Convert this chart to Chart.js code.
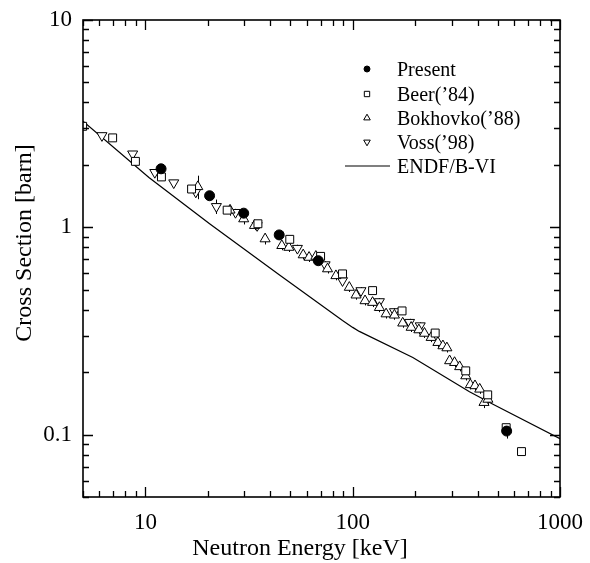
<!DOCTYPE html>
<html>
<head>
<meta charset="utf-8">
<script src="https://cdn.jsdelivr.net/npm/chart.js@4/dist/chart.umd.min.js"></script>
<style>
  html, body { margin: 0; padding: 0; background: #fff; }
  #wrap { width: 590px; height: 563px; }
</style>
</head>
<body>
<div id="wrap"><canvas id="xsChart" width="590" height="563"></canvas></div>
<script>
/* ===============================
   Capture cross section vs neutron energy
   log-log, data
================================ */

// Present (filled circles)
const presentE = [11.9, 20.4, 29.8, 44.2, 68.2, 553];
const presentS = [1.915, 1.42, 1.17, 0.919, 0.69, 0.104];
const presentErr = [0.03, 0.03, 0.04, 0.03, 0.03, 0.08];

// Beer('84) (open squares)
const beerE = [4.98, 6.95, 8.95, 11.95, 16.7, 24.8, 34.9, 49.7, 70, 89.3, 124.7, 173, 250, 351, 448, 550, 652];
const beerS = [3.07, 2.70, 2.08, 1.75, 1.53, 1.21, 1.04, 0.875, 0.724, 0.596, 0.495, 0.395, 0.309, 0.203, 0.1555, 0.108, 0.0828];

// Bokhovko('88) (open up-triangles)
const bokE = [17.9, 25.6, 29.8, 33.6, 37.8, 45.5, 49.2, 57.7, 61.6, 66.4, 75.6, 83, 96.3, 103.8, 114.7, 124.7,
    134.5, 144.9, 159, 174.3, 191.4, 208.5, 222, 239, 257.6, 272.4, 284.7, 293.4, 310, 328, 351, 369.4, 389, 410, 430, 449];
const bokS = [1.57, 1.21, 1.098, 1.02, 0.879, 0.816, 0.80, 0.736, 0.716, 0.724, 0.63, 0.584, 0.513, 0.471, 0.442, 0.434,
    0.41, 0.382, 0.377, 0.345, 0.329, 0.32, 0.308, 0.294, 0.278, 0.268, 0.262, 0.227, 0.2226, 0.2125, 0.192, 0.174, 0.172, 0.1656, 0.1428, 0.148];
const bokErr = [0.13, 0.06, 0.06, 0.05, 0.06, 0.05, 0.05, 0.05, 0.05, 0.05, 0.05, 0.05, 0.05, 0.05, 0.05, 0.05,
    0.05, 0.05, 0.05, 0.05, 0.05, 0.05, 0.05, 0.05, 0.05, 0.05, 0.05, 0.05, 0.05, 0.05, 0.05, 0.05, 0.05, 0.05, 0.06, 0.05];

// Voss('98) (open down-triangles)
const vossE = [6.17, 8.68, 11.1, 13.7, 17.5, 22.0, 27.2, 34.6, 54.1, 73.6, 89.3, 109.6, 134.5, 159, 188, 211.7];
const vossS = [2.77, 2.26, 1.84, 1.64, 1.48, 1.26, 1.18, 1.02, 0.792, 0.66, 0.553, 0.495, 0.438, 0.392, 0.348, 0.335];
const vossErr = [0.03, 0.03, 0.03, 0.03, 0.05, 0.08, 0.04, 0.04, 0.04, 0.04, 0.04, 0.04, 0.04, 0.04, 0.04, 0.04];

// ENDF/B-VI evaluation (solid line)
const endfE = [5, 10.4, 20.4, 44.2, 89.3, 100, 107.6, 195, 366, 475, 1000];
const endfS = [3.25, 1.74, 1.04, 0.59, 0.355, 0.329, 0.3146, 0.2356, 0.161, 0.14, 0.0955];

// Axis ranges, labelled decades and frame tick values
const xRange = [5, 1000];
const yRange = [0.05, 10];
const xTickLabels = [10, 100, 1000];
const yTickLabels = [0.1, 1, 10];
const xFrameTicks = [5, 6, 7, 8, 9, 10, 20, 30, 40, 50, 60, 70, 80, 90, 100, 200, 300, 400, 500, 600, 700, 800, 900, 1000];
const yFrameTicks = [0.05, 0.06, 0.07, 0.08, 0.09, 0.1, 0.2, 0.3, 0.4, 0.5, 0.6, 0.7, 0.8, 0.9, 1, 2, 3, 4, 5, 6, 7, 8, 9, 10];

const SERIF = '"Liberation Serif", "Times New Roman", serif';

const toXY = (xs, ys) => xs.map((x, i) => ({ x, y: ys[i] }));
const findLabel = (v, list) => list.find(t => Math.abs(Math.log10(v) - Math.log10(t)) < 1e-6);
const isDecade = v => Math.abs(Math.log10(v) - Math.round(Math.log10(v))) < 1e-6;

/**
 * Error bars, drawn under the markers
 */
const errorBarPlugin = {
    id: 'errorBars',
    beforeDatasetsDraw(chart) {
        const c = chart.ctx;
        const xs = chart.scales.x, ys = chart.scales.y;
        c.save();
        c.strokeStyle = '#000';
        c.lineWidth = 1;
        chart.data.datasets.forEach(ds => {
            if (!ds.errors) return;
            ds.data.forEach((p, i) => {
                const err = ds.errors[i];
                if (!err) return;
                const px = Math.round(xs.getPixelForValue(p.x)) + 0.5;
                c.beginPath();
                c.moveTo(px, ys.getPixelForValue(p.y * (1 + err)));
                c.lineTo(px, ys.getPixelForValue(p.y * (1 - err)));
                c.stroke();
            });
        });
        c.restore();
    }
};

/**
 * Frame with inward ticks on all four sides, axis titles and legend
 */
const frameLegendPlugin = {
    id: 'frameLegend',
    afterDraw(chart) {
        const c = chart.ctx;
        const a = chart.chartArea;
        const xs = chart.scales.x, ys = chart.scales.y;
        c.save();
        c.strokeStyle = '#000';

        // inward ticks
        c.lineWidth = 1.3;
        c.beginPath();
        for (const v of xFrameTicks) {
            const px = Math.round(xs.getPixelForValue(v)) + 0.5;
            const len = isDecade(v) ? 10 : 6;
            c.moveTo(px, a.bottom);
            c.lineTo(px, a.bottom - len);
            c.moveTo(px, a.top);
            c.lineTo(px, a.top + len);
        }
        for (const v of yFrameTicks) {
            const py = Math.round(ys.getPixelForValue(v)) + 0.5;
            const len = isDecade(v) ? 10 : 6;
            c.moveTo(a.left, py);
            c.lineTo(a.left + len, py);
            c.moveTo(a.right, py);
            c.lineTo(a.right - len, py);
        }
        c.stroke();

        // box
        c.lineWidth = 1.6;
        c.strokeRect(a.left, a.top, a.right - a.left, a.bottom - a.top);

        // axis titles
        c.fillStyle = '#000';
        c.font = '24px ' + SERIF;
        c.textAlign = 'center';
        c.textBaseline = 'alphabetic';
        c.fillText('Neutron Energy [keV]', 300, 555);
        c.save();
        c.translate(31, 243);
        c.rotate(-Math.PI / 2);
        c.fillText('Cross Section [barn]', 0, 0);
        c.restore();

        // legend
        const symX = 367, txtX = 397, rowY = [69, 94, 118, 142, 166];
        c.font = '20px ' + SERIF;
        c.textAlign = 'left';
        c.textBaseline = 'middle';
        const order = ['Present', 'Beer(’84)', 'Bokhovko(’88)', 'Voss(’98)', 'ENDF/B-VI'];
        order.forEach((label, i) => {
            const ds = chart.data.datasets.find(d => d.label === label);
            const yy = rowY[i];
            if (ds.type === 'line') {
                c.lineWidth = 1.2;
                c.beginPath();
                c.moveTo(345, yy);
                c.lineTo(390, yy);
                c.stroke();
            } else {
                c.lineWidth = 1;
                c.fillStyle = ds.backgroundColor;
                Chart.helpers.drawPoint(c, {
                    pointStyle: ds.pointStyle,
                    rotation: ds.rotation || 0,
                    radius: ds.pointStyle === 'circle' ? 3 : 3.8,
                    borderWidth: 1
                }, symX, yy);
            }
            c.fillStyle = '#000';
            c.fillText(label, txtX, yy + 2);
        });
        c.restore();
    }
};

const pointDefaults = {
    type: 'scatter',
    borderColor: '#000',
    borderWidth: 1,
    showLine: false
};

const ctx = document.getElementById('xsChart');
new Chart(ctx, {
    data: {
        datasets: [
            { ...pointDefaults, label: 'Present', data: toXY(presentE, presentS), errors: presentErr,
              pointStyle: 'circle', backgroundColor: '#000', pointRadius: 5 },
            { ...pointDefaults, label: 'Beer(’84)', data: toXY(beerE, beerS),
              pointStyle: 'rect', backgroundColor: '#fff', pointRadius: 5.6 },
            { ...pointDefaults, label: 'Bokhovko(’88)', data: toXY(bokE, bokS), errors: bokErr,
              pointStyle: 'triangle', backgroundColor: '#fff', pointRadius: 5.8 },
            { ...pointDefaults, label: 'Voss(’98)', data: toXY(vossE, vossS), errors: vossErr,
              pointStyle: 'triangle', rotation: 180, pointRotation: 180, backgroundColor: '#fff', pointRadius: 5.8 },
            { type: 'line', label: 'ENDF/B-VI', data: toXY(endfE, endfS),
              borderColor: '#000', borderWidth: 1.2, pointRadius: 0, tension: 0, fill: false }
        ]
    },
    options: {
        responsive: false,
        animation: false,
        layout: { padding: { top: 20, right: 30, left: 0, bottom: 0 } },
        plugins: { legend: { display: false }, tooltip: { enabled: false } },
        scales: {
            x: {
                type: 'logarithmic',
                min: xRange[0],
                max: xRange[1],
                grid: { display: false, drawTicks: false },
                border: { display: false },
                afterFit: s => { s.height = 66; s.paddingLeft = 0; s.paddingRight = 0; },
                ticks: {
                    autoSkip: false,
                    maxRotation: 0,
                    padding: 12,
                    color: '#000',
                    font: { family: SERIF, size: 23 },
                    callback: v => { const t = findLabel(v, xTickLabels); return t ? String(t) : ''; }
                }
            },
            y: {
                type: 'logarithmic',
                min: yRange[0],
                max: yRange[1],
                grid: { display: false, drawTicks: false },
                border: { display: false },
                afterFit: s => { s.width = 83; s.paddingTop = 0; s.paddingBottom = 0; },
                ticks: {
                    autoSkip: false,
                    padding: 11,
                    color: '#000',
                    font: { family: SERIF, size: 23 },
                    callback: v => { const t = findLabel(v, yTickLabels); return t ? String(t) : ''; }
                }
            }
        }
    },
    plugins: [errorBarPlugin, frameLegendPlugin]
});
</script>
</body>
</html>
